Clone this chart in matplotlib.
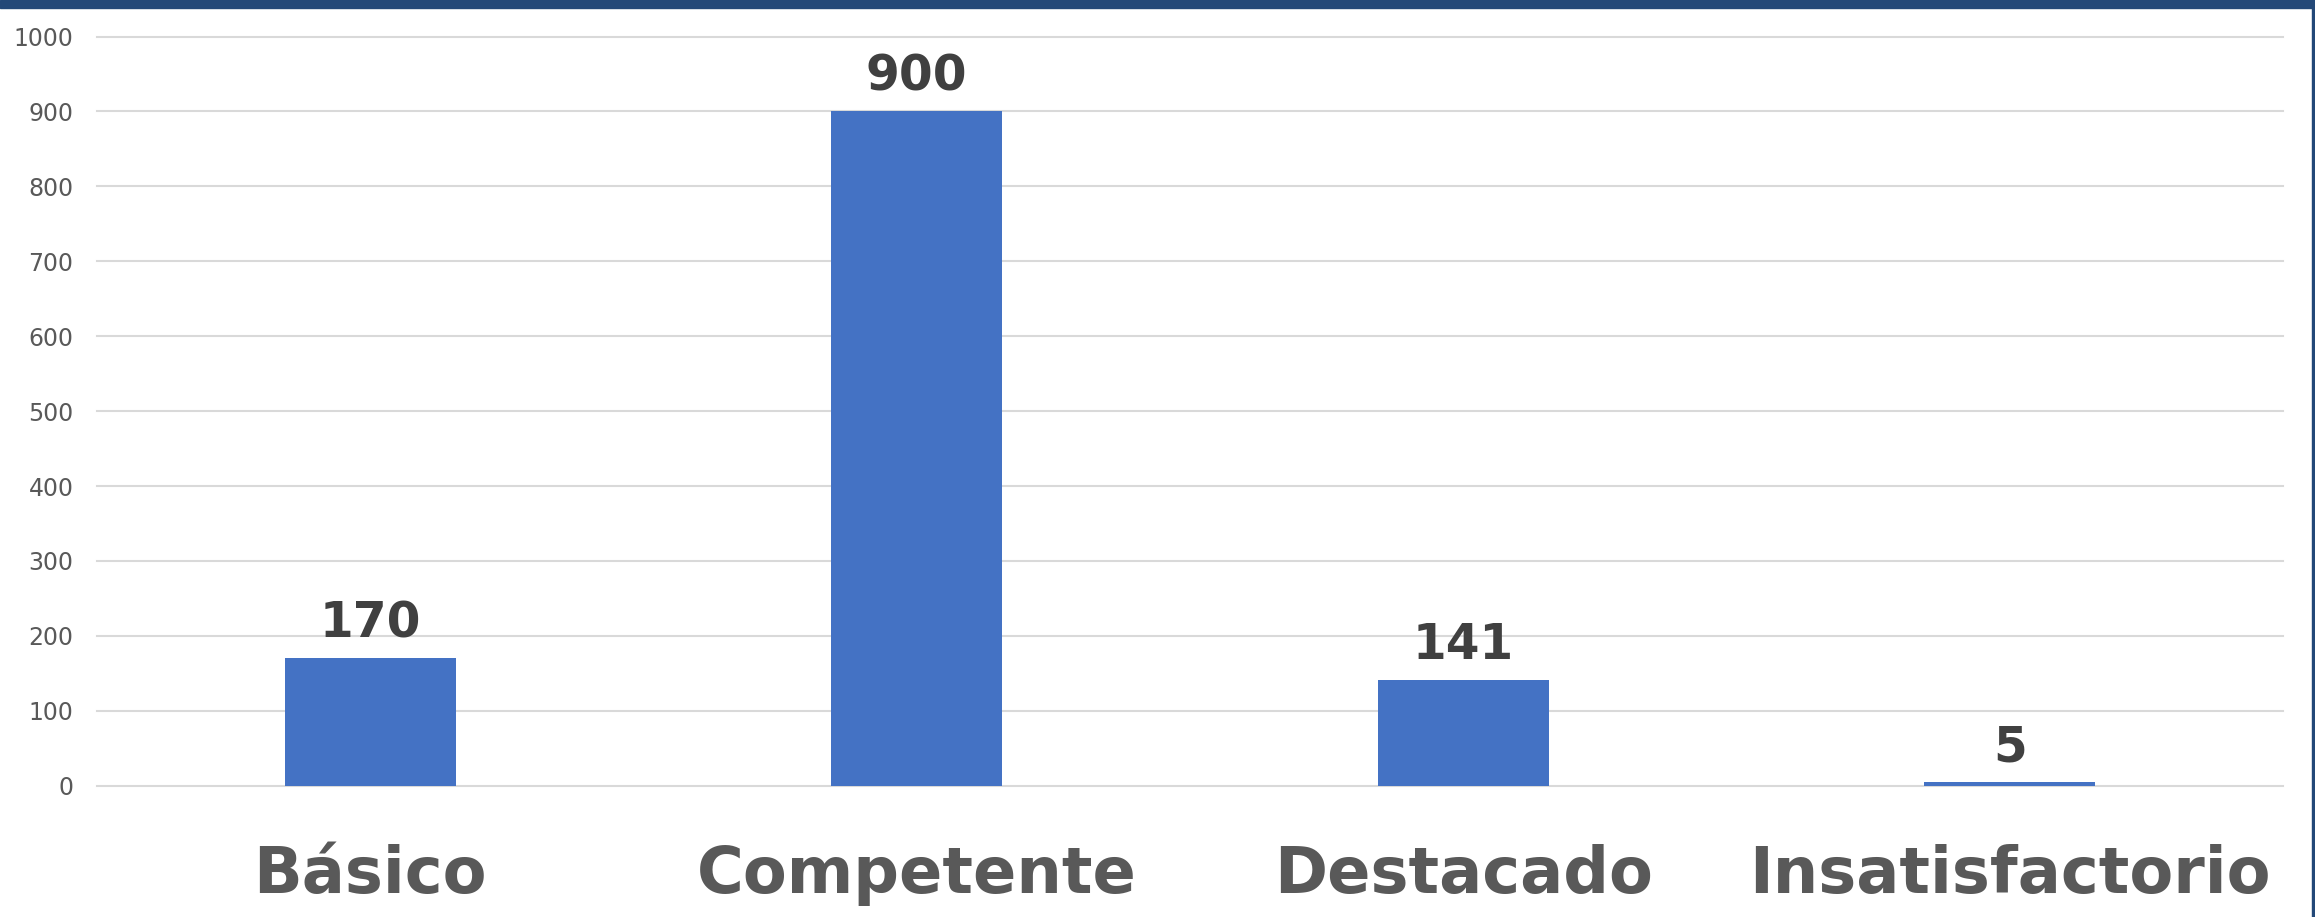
import matplotlib
matplotlib.use("Agg")
import matplotlib.pyplot as plt
from matplotlib.patches import Rectangle
import numpy as np

# Daten
categorias = ["Básico", "Competente", "Destacado", "Insatisfactorio"]
valores = [170, 900, 141, 5]
y_ticks = [0, 100, 200, 300, 400, 500, 600, 700, 800, 900, 1000]

W, H = 2315, 917
fig = plt.figure(figsize=(W / 100, H / 100), dpi=100)
plt.rcParams["font.family"] = ["DejaVu Sans"]

# Achsenbereich in Pixel
left, right = 97, 2283
top, bottom = 36.5, 785.7
ax = fig.add_axes([left / W, 1 - bottom / H, (right - left) / W, (bottom - top) / H])

x = np.arange(len(categorias))
ax.bar(x, valores, width=0.313, color="#4472C4", zorder=3)

ax.set_xlim(-0.5, len(categorias) - 0.5)
ax.set_ylim(0, 1000)
ax.set_yticks(y_ticks)
ax.set_yticklabels([str(t) for t in y_ticks], fontsize=17, color="#595959")
ax.tick_params(axis="y", length=0, pad=17)
ax.set_xticks([])

ax.grid(axis="y", color="#D9D9D9", linewidth=1.5, zorder=0)
for line in ax.get_ygridlines():
    line.set_clip_on(False)
for s in ax.spines.values():
    s.set_visible(False)

# Werte über den Balken
for xi, v in zip(x, valores):
    ax.annotate(str(v), (xi, v), xytext=(0, 15), textcoords="offset points",
                ha="center", va="baseline", fontsize=35, fontweight="bold",
                color="#404040")

# Kategorien unten
trans = ax.get_xaxis_transform()
base_y = -(892.7 - bottom) / (bottom - top)
for xi, c in zip(x, categorias):
    ax.text(xi, base_y, c, transform=trans, ha="center", va="baseline",
            fontsize=46, fontweight="bold", color="#595959")

# Rahmen oben und rechts
fig.patches.append(Rectangle((0, 1 - 8 / H), 1, 8 / H, transform=fig.transFigure,
                             color="#234878", zorder=10))
fig.patches.append(Rectangle((1 - 3.5 / W, 0), 3.5 / W, 1, transform=fig.transFigure,
                             color="#234878", zorder=10))

fig.savefig("out.png", dpi=100)
